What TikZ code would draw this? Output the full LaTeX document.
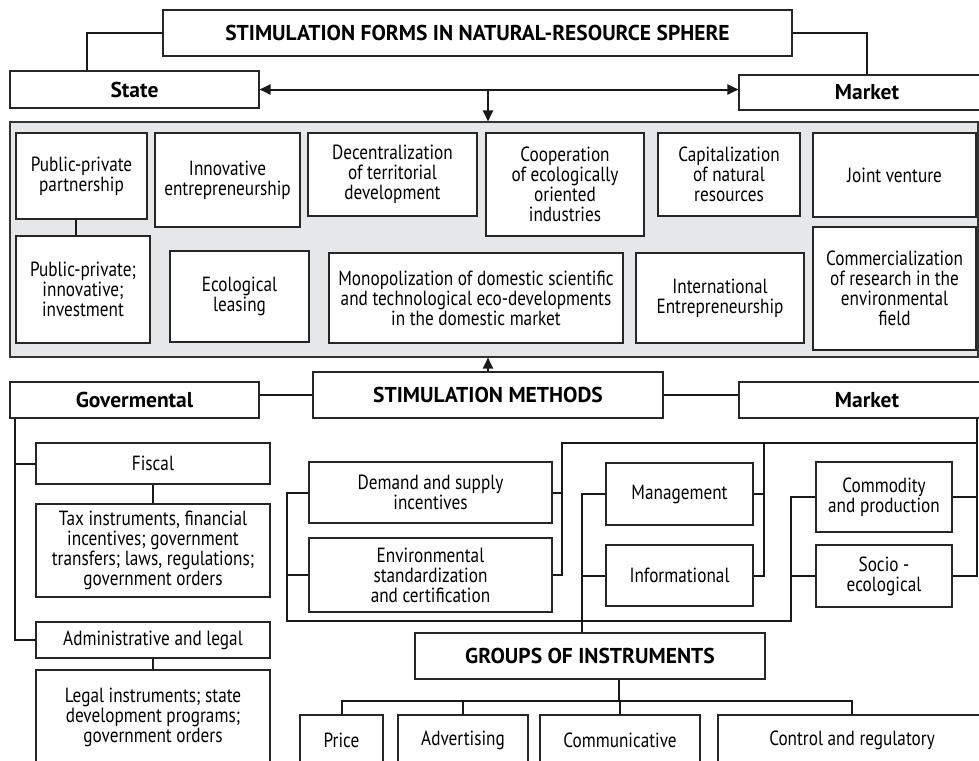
\documentclass[tikz,border=0pt]{standalone}
\usepackage{fontspec}
\setmainfont{PT Sans}[FakeStretch=0.84]
\newfontfamily\headfont{PT Sans}
\usetikzlibrary{arrows.meta}

\definecolor{panel}{RGB}{230,231,232}

\begin{document}
\begin{tikzpicture}
	[x=1pt, y=-1pt,
	 box/.style={rectangle, draw=black!85, line width=1.1pt, fill=white, align=center, inner sep=0pt, font=\fontsize{20.5}{20}\selectfont},
	 head/.style={box, font=\headfont\fontsize{21.5}{22}\selectfont\bfseries},
	 conn/.style={line width=2pt, black!90},
	 tip/.style={conn, -{Triangle[length=11pt, width=10pt]}}]
	
	\clip (0,0) rectangle (979,760);
	
	% upper part
	\node[head, minimum width=629, minimum height=46] (title) at (477.5,33) {STIMULATION FORMS IN NATURAL-RESOURCE SPHERE};
	\node[head, minimum width=249, minimum height=37] (state) at (134.5,89.5) {State};
	\node[head, minimum width=256, minimum height=35] (mkt) at (867,92.5) {Market};
	
	\node[rectangle, draw=black!80, line width=1.1pt, fill=panel, minimum width=968, minimum height=235] (forms) at (494,239.5) {};
	
	\node[box, minimum width=131, minimum height=86] (ppp) at (81.5,176) {Public-private\\partnership};
	\node[box, minimum width=145, minimum height=94] (innov) at (227.5,180) {Innovative\\entrepreneurship};
	\node[box, minimum width=169, minimum height=83] (decent) at (392.5,174.5) {Decentralization\\of territorial\\development};
	\node[box, minimum width=158, minimum height=103] (coop) at (565,184.5) {Cooperation\\of ecologically\\oriented\\industries};
	\node[box, minimum width=142, minimum height=83] (capit) at (729,174.5) {Capitalization\\of natural\\resources};
	\node[box, minimum width=163, minimum height=84] (joint) at (894.5,175) {Joint venture};
	
	\node[box, minimum width=134, minimum height=107] (ppi) at (83,289.5) {Public-private;\\innovative;\\investment};
	\node[box, minimum width=139, minimum height=91] (ecol) at (239.5,296.5) {Ecological\\leasing};
	\node[box, minimum width=294, minimum height=90] (mono) at (476,298) {Monopolization of domestic scientific\\and technological eco-developments\\in the domestic market};
	\node[box, minimum width=168, minimum height=90] (intl) at (720,298) {International\\Entrepreneurship};
	\node[box, minimum width=163, minimum height=123] (comm) at (894.5,288.5) {Commercialization\\of research in the\\environmental\\field};
	
	% methods
	\node[head, minimum width=350, minimum height=46] (stim) at (488,395) {STIMULATION METHODS};
	\node[head, minimum width=249, minimum height=36] (gov) at (134.5,400) {Govermental};
	\node[head, minimum width=256, minimum height=36] (mkt2) at (867,400) {Market};
	
	\node[box, minimum width=234, minimum height=41] (fiscal) at (153,463.5) {Fiscal};
	\node[box, minimum width=234, minimum height=93] (tax) at (153,550.5) {Tax instruments, financial\\incentives; government\\transfers; laws, regulations;\\government orders};
	\node[box, minimum width=234, minimum height=36] (admin) at (153,640) {Administrative and legal};
	\node[box, minimum width=234, minimum height=95] (legal) at (153,717.5) {Legal instruments; state\\development programs;\\government orders};
	
	\node[box, minimum width=243, minimum height=61] (demand) at (430.5,492.5) {Demand and supply\\incentives};
	\node[box, minimum width=243, minimum height=74] (env) at (430.5,575) {Environmental\\standardization\\and certification};
	\node[box, minimum width=147, minimum height=62] (mgmt) at (679.5,494) {Management};
	\node[box, minimum width=147, minimum height=61] (info) at (679.5,575.5) {Informational};
	\node[box, minimum width=136, minimum height=70] (commod) at (884,497) {Commodity\\and production};
	\node[box, minimum width=136, minimum height=62] (socio) at (884,576) {Socio -\\ecological};
	
	% instruments
	\node[head, minimum width=350, minimum height=46] (groups) at (590,656) {GROUPS OF INSTRUMENTS};
	\node[box, minimum width=83, minimum height=50] (price) at (341.5,740) {Price};
	\node[box, minimum width=130, minimum height=50] (adv) at (463,740) {Advertising};
	\node[box, minimum width=160, minimum height=50] (commu) at (620,740) {Communicative};
	\node[box, minimum width=268, minimum height=50] (ctrl) at (852,740) {Control and regulatory};
	
	\coordinate (lowl) at (287,621);
	\coordinate (lowr) at (791,621);
	\coordinate (topl) at (562,443);
	\coordinate (topm) at (764,443);
	\coordinate (topr) at (977,443);
	\coordinate (grin) at (582,0);
	\coordinate (bus) at (619,701);
	
	\draw[conn] (title.west) -| ([xshift=-47.5]state.north);
	\draw[conn] (title.east) -| (mkt.north);
	\draw[conn, {Triangle[length=11pt, width=10pt]}-{Triangle[length=11pt, width=10pt]}] (state.east) -- (state.east -| mkt.west);
	\draw[tip] (state.east -| stim.north) -- (stim.north |- forms.north);
	\draw[conn] ([xshift=-6]ppp.south) -- ([xshift=-6]ppp.south |- ppi.north);
	\draw[tip] (stim.north) -- (stim.north |- forms.south);
	
	\draw[conn] (stim.west) -- (stim.west -| gov.east);
	\draw[conn] (stim.east) -- (stim.east -| mkt2.west);
	
	\draw[conn] ([xshift=6]gov.south west) |- (admin.west);
	\draw[conn] (fiscal.west) -| ([xshift=6]gov.south west);
	\draw[conn] (fiscal) -- (tax);
	\draw[conn] (admin) -- (legal);
	
	\draw[conn] (demand.west) -| (lowl) -- (lowr) |- (commod.west);
	\draw[conn] (env.west) -| (lowl);
	\draw[conn] (socio.west) -| (lowr);
	\draw[conn] (demand.east) -| (topl) -- (topr) -- (topr |- mkt2.south);
	\draw[conn] (env.east) -| (topl);
	\draw[conn] (mgmt.east) -| (topm);
	\draw[conn] (info.east) -| (topm);
	\draw[conn] (commod.east) -| (topr);
	\draw[conn] (socio.east) -| (topr);
	\draw[conn] (mgmt.west) -| (grin |- groups.north);
	\draw[conn] (info.west) -| (grin |- groups.north);
	
	\draw[conn] (groups.south -| bus) -- (bus);
	\draw[conn] (price.north) |- (bus) -| (ctrl.north);
	\draw[conn] (adv.north) -- (adv.north |- bus);
	\draw[conn] (commu.north) -- (commu.north |- bus);
\end{tikzpicture}
\end{document}
